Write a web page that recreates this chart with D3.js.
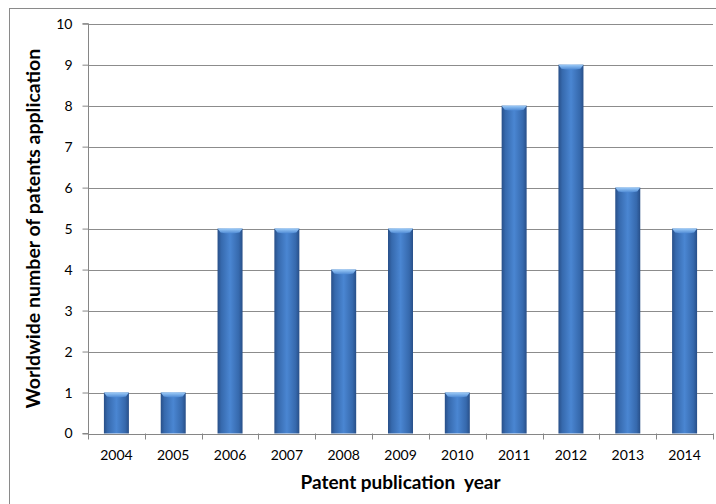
<!DOCTYPE html>
<html>
<head>
<meta charset="utf-8">
<script src="https://cdn.jsdelivr.net/npm/d3@7"></script>
<style>
  html, body { margin: 0; padding: 0; background: #fff; }
  svg { display: block; }
  text { font-family: Lato, "Open Sans", sans-serif; fill: #000; }
</style>
</head>
<body>
<svg id="chart" width="716" height="504"></svg>
<script>
// Patent publications per year
const years = ["2004", "2005", "2006", "2007", "2008", "2009", "2010", "2011", "2012", "2013", "2014"];
const counts = [1, 1, 5, 5, 4, 5, 1, 8, 9, 6, 5];
const yTicks = [0, 1, 2, 3, 4, 5, 6, 7, 8, 9, 10];
const xTitle = "Patent publication  year";
const yTitle = "Worldwide number of patents application";

const svg = d3.select("#chart");
const W = 716, H = 504;
const plot = { left: 88, right: 713, top: 23.7, bottom: 433.5 };

// outer chart frame
svg.append("rect")
  .attr("x", 9.5).attr("y", 8.5)
  .attr("width", W + 10).attr("height", H + 10)
  .attr("fill", "#fff").attr("stroke", "#8a8a8a").attr("stroke-width", 1);

const x = d3.scaleBand().domain(years).range([plot.left, plot.right]).paddingInner(0.56).paddingOuter(0.28);
const xEdge = d3.scaleBand().domain(years).range([plot.left, plot.right]).padding(0);
const y = d3.scaleLinear().domain([0, 10]).range([plot.bottom, plot.top]);

// horizontal gradient giving the bars a rounded look
const defs = svg.append("defs");
const grad = defs.append("linearGradient").attr("id", "barGrad").attr("x1", "0").attr("x2", "1").attr("y1", "0").attr("y2", "0");
[[0, "#284f88"], [0.15, "#3669ad"], [0.5, "#4a86d2"], [0.85, "#3669ad"], [1, "#284f88"]]
  .forEach(([o, c]) => grad.append("stop").attr("offset", o).attr("stop-color", c));
const capGrad = defs.append("linearGradient").attr("id", "capGrad").attr("x1", "0").attr("x2", "0").attr("y1", "0").attr("y2", "1");
[[0, "#9ccbf8"], [1, "#4a86d2"]]
  .forEach(([o, c]) => capGrad.append("stop").attr("offset", o).attr("stop-color", c));

// horizontal gridlines
svg.append("g").selectAll("line").data(yTicks.filter(d => d > 0)).join("line")
  .attr("x1", plot.left).attr("x2", plot.right)
  .attr("y1", d => Math.round(y(d)) + 0.5).attr("y2", d => Math.round(y(d)) + 0.5)
  .attr("stroke", "#8c8c8c").attr("stroke-width", 1);

// y axis
const yAxis = d3.axisLeft(y).tickValues(yTicks).tickSize(6).tickPadding(10).tickFormat(d3.format("d"));
const gy = svg.append("g").attr("transform", `translate(${plot.left + 0.5},0)`).call(yAxis);
gy.select(".domain").attr("stroke", "#868686").attr("d", `M-6,${plot.bottom}H0V${plot.top}H-6`);
gy.selectAll(".tick line").attr("stroke", "#868686");
gy.selectAll(".tick text").style("font-size", "14px").style("font-family", "Lato, sans-serif");

// bars
const bars = svg.append("g").selectAll("g").data(years.map((yr, i) => ({ yr, v: counts[i] }))).join("g");
bars.append("rect")
  .attr("x", d => x(d.yr)).attr("width", x.bandwidth())
  .attr("y", d => y(d.v)).attr("height", d => y(0) - y(d.v))
  .attr("fill", "url(#barGrad)");
bars.append("path")
  .attr("d", d => {
    const x0 = x(d.yr), w = x.bandwidth(), t = y(d.v);
    return `M${x0},${t}H${x0 + w}L${x0 + w - 3},${t + 4}Q${x0 + w / 2},${t + 6} ${x0 + 3},${t + 4}Z`;
  })
  .attr("fill", "url(#capGrad)");

// x axis
const xAxis = d3.axisBottom(xEdge).tickSize(0).tickPadding(16);
const gx = svg.append("g").attr("transform", `translate(0,${Math.round(plot.bottom) + 0.5})`).call(xAxis);
gx.select(".domain").attr("stroke", "#868686").attr("d", `M${plot.left},0H${plot.right}`);
gx.selectAll(".tick text").style("font-size", "14px").style("font-family", "Lato, sans-serif");
// category separators
svg.append("g").selectAll("line").data(years.concat(["end"])).join("line")
  .attr("x1", (d, i) => Math.round(plot.left + i * xEdge.bandwidth()) + 0.5)
  .attr("x2", (d, i) => Math.round(plot.left + i * xEdge.bandwidth()) + 0.5)
  .attr("y1", plot.bottom).attr("y2", plot.bottom + 6)
  .attr("stroke", "#868686");

// axis titles
svg.append("text")
  .attr("x", (plot.left + plot.right) / 2).attr("y", 489)
  .attr("text-anchor", "middle")
  .style("font-size", "19px").style("font-weight", "bold").style("white-space", "pre")
  .text(xTitle);
svg.append("text")
  .attr("transform", `translate(40,${(plot.top + plot.bottom) / 2}) rotate(-90)`)
  .attr("text-anchor", "middle")
  .style("font-size", "19.5px").style("font-weight", "bold")
  .text(yTitle);
</script>
</body>
</html>
